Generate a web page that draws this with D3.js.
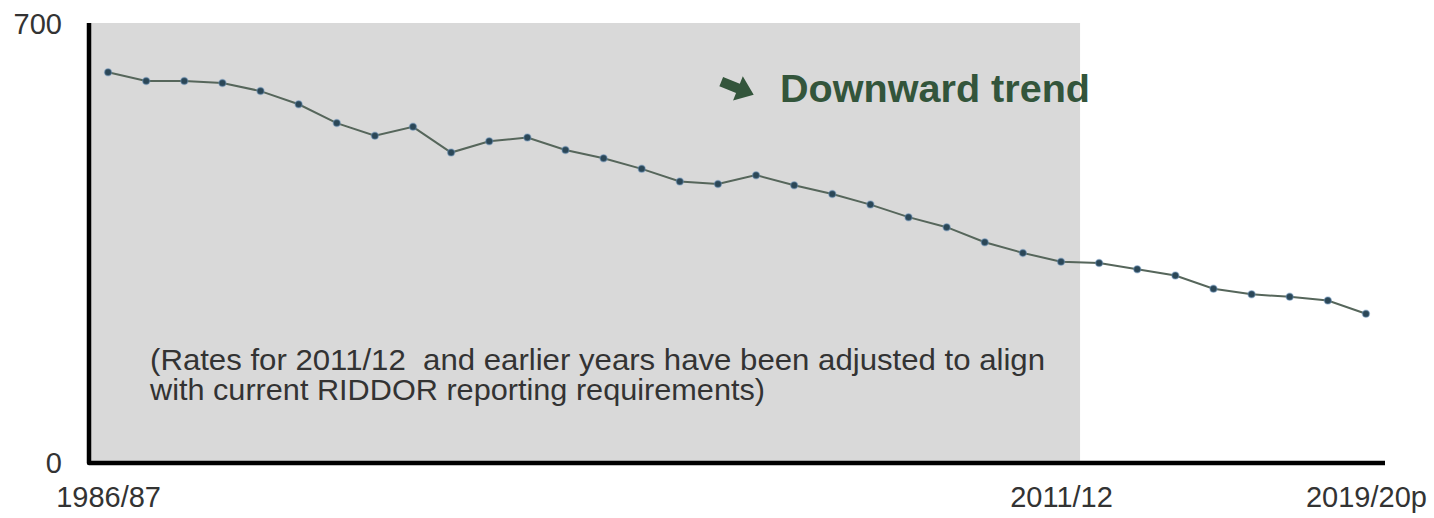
<!DOCTYPE html>
<html>
<head>
<meta charset="utf-8">
<script src="https://cdn.jsdelivr.net/npm/d3@7/dist/d3.min.js"></script>
<style>
  html, body { margin: 0; padding: 0; background: #ffffff; }
  svg { display: block; }
  text { font-family: "Liberation Sans", Arial, sans-serif; }
</style>
</head>
<body>
<div id="chart"></div>
<script>
// Financial years, 1986/87 to 2019/20 (provisional)
const years = [
  "1986/87", "1987/88", "1988/89", "1989/90", "1990/91", "1991/92", "1992/93",
  "1993/94", "1994/95", "1995/96", "1996/97", "1997/98", "1998/99", "1999/00",
  "2000/01", "2001/02", "2002/03", "2003/04", "2004/05", "2005/06", "2006/07",
  "2007/08", "2008/09", "2009/10", "2010/11", "2011/12", "2012/13", "2013/14",
  "2014/15", "2015/16", "2016/17", "2017/18", "2018/19", "2019/20p"
];

// Rate per 100,000 workers
const rates = [
  623, 609, 609, 606, 593, 572, 542,
  522, 536, 495, 513, 519, 499, 486,
  469, 449, 445, 459, 443, 429, 412,
  392, 376, 352, 335, 321, 319, 309,
  299, 278, 269, 265, 259, 238
];

const yTicks = [0, 700];
const xTickLabels = ["1986/87", "2011/12", "2019/20p"];
const adjustedUpTo = "2011/12";
const trendLabel = "Downward trend";
const noteLines = [
  "(Rates for 2011/12  and earlier years have been adjusted to align",
  "with current RIDDOR reporting requirements)"
];

const W = 1434, H = 518;
const plotLeft = 89, plotRight = 1385, plotTop = 24, plotBottom = 463;

const svg = d3.select("#chart").append("svg")
  .attr("width", W).attr("height", H);

const x = d3.scalePoint().domain(years).range([plotLeft, plotRight]).padding(0.5);
const y = d3.scaleLinear().domain([0, 700]).range([plotBottom, plotTop]);

// Shaded block for the adjusted years
const shadeEnd = x(adjustedUpTo) + x.step() / 2;
svg.append("rect")
  .attr("x", plotLeft).attr("y", y(700) - 1)
  .attr("width", shadeEnd - plotLeft).attr("height", y(0) - y(700) - 1)
  .attr("fill", "#d9d9d9");

// Note inside the shaded block
const note = svg.append("text")
  .attr("fill", "#333333")
  .attr("font-size", 30)
  .style("white-space", "pre");
note.append("tspan").attr("x", 150).attr("y", 370)
  .attr("textLength", 895).attr("lengthAdjust", "spacingAndGlyphs")
  .text(noteLines[0]);
note.append("tspan").attr("x", 150).attr("y", 400)
  .attr("textLength", 615).attr("lengthAdjust", "spacingAndGlyphs")
  .text(noteLines[1]);

// Trend arrow and label
svg.append("path")
  .attr("d", "M-17,-5 L1,-5 L1,-13 L18,0 L1,13 L1,5 L-17,5 Z")
  .attr("transform", "translate(737,88) rotate(22)")
  .attr("fill", "#33553b");
svg.append("text")
  .attr("x", 780).attr("y", 102)
  .attr("font-size", 38).attr("font-weight", "bold")
  .attr("fill", "#33553b")
  .attr("textLength", 310).attr("lengthAdjust", "spacingAndGlyphs")
  .text(trendLabel);

// Series line
const line = d3.line()
  .x((d, i) => x(years[i]))
  .y(d => y(d));
svg.append("path")
  .datum(rates)
  .attr("fill", "none")
  .attr("stroke", "#56665b")
  .attr("stroke-width", 2)
  .attr("d", line);

svg.selectAll("circle.pt")
  .data(rates)
  .join("circle")
  .attr("class", "pt")
  .attr("cx", (d, i) => x(years[i]))
  .attr("cy", d => y(d))
  .attr("r", 3.5)
  .attr("fill", "#2b4757")
  .attr("stroke", "rgba(110,150,190,0.45)")
  .attr("stroke-width", 1.5);

// Axes
const yAxis = d3.axisLeft(y).tickValues(yTicks).tickSize(0).tickPadding(27);
const gy = svg.append("g").attr("transform", `translate(${plotLeft},0)`).call(yAxis);
gy.select(".domain").remove();
gy.selectAll("text")
  .attr("font-family", "'Liberation Sans', Arial, sans-serif")
  .attr("font-size", 29).attr("fill", "#333333");

const xAxis = d3.axisBottom(x).tickValues(xTickLabels).tickSize(0).tickPadding(23);
const gx = svg.append("g").attr("transform", `translate(0,${plotBottom})`).call(xAxis);
gx.select(".domain").remove();
gx.selectAll("text")
  .attr("font-family", "'Liberation Sans', Arial, sans-serif")
  .attr("font-size", 29).attr("fill", "#333333");

// Axis lines drawn as one heavy L shape
svg.append("path")
  .attr("d", `M${plotLeft},${plotTop - 1} L${plotLeft},${plotBottom} L${plotRight},${plotBottom}`)
  .attr("fill", "none")
  .attr("stroke", "#000000")
  .attr("stroke-width", 4.5)
  .attr("stroke-linejoin", "round");
</script>
</body>
</html>
